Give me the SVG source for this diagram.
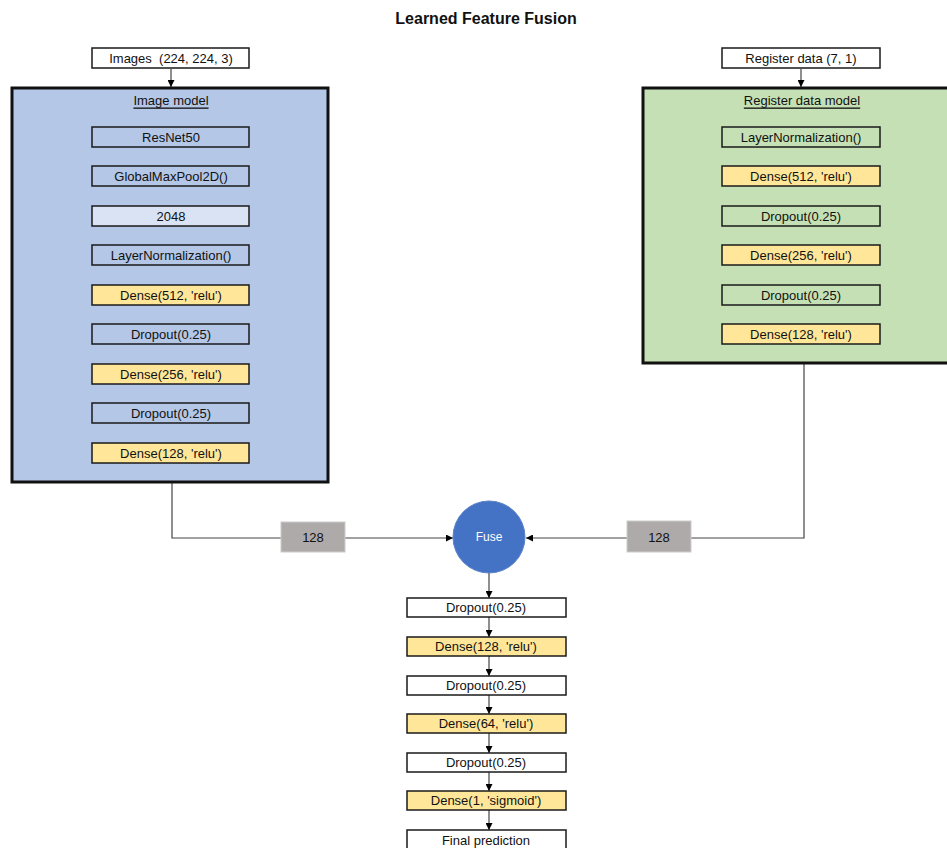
<svg xmlns="http://www.w3.org/2000/svg" width="947" height="848" viewBox="0 0 947 848">
<style>
text{font-family:"Liberation Sans",Arial,sans-serif;font-size:13px;fill:#111;text-anchor:middle;dominant-baseline:central;white-space:pre}
.b{stroke:#1a1a1a;stroke-width:1.5}
.w{fill:#fff}.y{fill:#ffe699}.bl{fill:#b4c7e7}.gr{fill:#c5e0b4}.lb{fill:#dae3f3}
.c{fill:none;stroke:#444;stroke-width:1.2}
.cnt{stroke:#111;stroke-width:3}
</style>
<defs>
<marker id="a" viewBox="0 0 10 10" refX="10" refY="5" markerWidth="7" markerHeight="7" markerUnits="userSpaceOnUse" orient="auto"><path d="M0,0L10,5L0,10z" fill="#000"/></marker>
</defs>
<rect width="947" height="848" fill="#fff"/>
<text x="486" y="18" style="font-weight:bold;font-size:16px">Learned Feature Fusion</text>

<g id="connectors">
<path class="c" d="M171,69V87" marker-end="url(#a)"/>
<path class="c" d="M801,69V87" marker-end="url(#a)"/>
<path class="c" d="M172,482V538H453" marker-end="url(#a)"/>
<path class="c" d="M804,363V538H526" marker-end="url(#a)"/>
<path class="c" d="M489,573V598" marker-end="url(#a)"/>
<path class="c" d="M489,617V637" marker-end="url(#a)"/>
<path class="c" d="M489,656V676" marker-end="url(#a)"/>
<path class="c" d="M489,695V714" marker-end="url(#a)"/>
<path class="c" d="M489,733V753" marker-end="url(#a)"/>
<path class="c" d="M489,772V791" marker-end="url(#a)"/>
<path class="c" d="M489,810V830" marker-end="url(#a)"/>
</g>

<g id="images"><rect class="b w" x="92" y="48" width="157" height="20"/><text x="171" y="58">Images  (224, 224, 3)</text></g>
<g id="register-data"><rect class="b w" x="722" y="48" width="158" height="20"/><text x="801" y="58">Register data (7, 1)</text></g>

<g id="image-model">
<rect class="bl cnt" x="12" y="88" width="316" height="394"/>
<text x="171" y="100" style="text-decoration:underline">Image model</text>
</g>
<g id="im-resnet"><rect class="b bl" x="92" y="127" width="157" height="20"/><text x="171" y="137">ResNet50</text></g>
<g id="im-gmp"><rect class="b bl" x="92" y="166" width="157" height="20"/><text x="171" y="176">GlobalMaxPool2D()</text></g>
<g id="im-2048"><rect class="b lb" x="92" y="206" width="157" height="20"/><text x="171" y="216">2048</text></g>
<g id="im-ln"><rect class="b bl" x="92" y="245" width="157" height="20"/><text x="171" y="255">LayerNormalization()</text></g>
<g id="im-d512"><rect class="b y" x="92" y="285" width="157" height="20"/><text x="171" y="295">Dense(512, 'relu')</text></g>
<g id="im-do1"><rect class="b bl" x="92" y="324" width="157" height="20"/><text x="171" y="334">Dropout(0.25)</text></g>
<g id="im-d256"><rect class="b y" x="92" y="364" width="157" height="20"/><text x="171" y="374">Dense(256, 'relu')</text></g>
<g id="im-do2"><rect class="b bl" x="92" y="403" width="157" height="20"/><text x="171" y="413">Dropout(0.25)</text></g>
<g id="im-d128"><rect class="b y" x="92" y="443" width="157" height="20"/><text x="171" y="453">Dense(128, 'relu')</text></g>

<g id="register-model">
<rect class="gr cnt" x="643" y="88" width="310" height="275"/>
<text x="802" y="100" style="text-decoration:underline">Register data model</text>
</g>
<g id="rm-ln"><rect class="b gr" x="722" y="127" width="158" height="20"/><text x="801" y="137">LayerNormalization()</text></g>
<g id="rm-d512"><rect class="b y" x="722" y="166" width="158" height="20"/><text x="801" y="176">Dense(512, 'relu')</text></g>
<g id="rm-do1"><rect class="b gr" x="722" y="206" width="158" height="20"/><text x="801" y="216">Dropout(0.25)</text></g>
<g id="rm-d256"><rect class="b y" x="722" y="245" width="158" height="20"/><text x="801" y="255">Dense(256, 'relu')</text></g>
<g id="rm-do2"><rect class="b gr" x="722" y="285" width="158" height="20"/><text x="801" y="295">Dropout(0.25)</text></g>
<g id="rm-d128"><rect class="b y" x="722" y="324" width="158" height="20"/><text x="801" y="334">Dense(128, 'relu')</text></g>

<g id="label-left"><rect x="281" y="522" width="64" height="30" fill="#aeaaaa" stroke="#ccc"/><text x="313" y="537">128</text></g>
<g id="label-right"><rect x="627" y="521" width="64" height="31" fill="#aeaaaa" stroke="#ccc"/><text x="659" y="537">128</text></g>

<g id="fuse"><circle cx="489" cy="537" r="36" fill="#4472c4" stroke="#5b82c8"/><text x="489" y="537" style="fill:#fff;font-size:12px">Fuse</text></g>

<g id="h-do1"><rect class="b w" x="407" y="598" width="159" height="19"/><text x="486" y="607.5">Dropout(0.25)</text></g>
<g id="h-d128"><rect class="b y" x="407" y="637" width="159" height="19"/><text x="486" y="646.5">Dense(128, 'relu')</text></g>
<g id="h-do2"><rect class="b w" x="407" y="676" width="159" height="19"/><text x="486" y="685.5">Dropout(0.25)</text></g>
<g id="h-d64"><rect class="b y" x="407" y="714" width="159" height="19"/><text x="486" y="723.5">Dense(64, 'relu')</text></g>
<g id="h-do3"><rect class="b w" x="407" y="753" width="159" height="19"/><text x="486" y="762.5">Dropout(0.25)</text></g>
<g id="h-d1"><rect class="b y" x="407" y="791" width="159" height="19"/><text x="486" y="800.5">Dense(1, 'sigmoid')</text></g>
<g id="h-final"><rect class="b w" x="407" y="830" width="159" height="20"/><text x="486" y="840">Final prediction</text></g>
</svg>
